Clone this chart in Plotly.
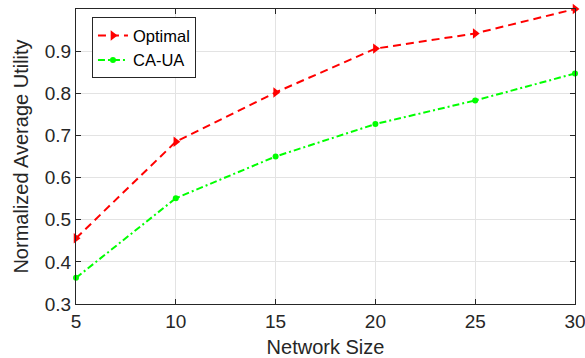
import plotly.graph_objects as go

network_size = [5, 10, 15, 20, 25, 30]
optimal = [0.456, 0.685, 0.802, 0.906, 0.942, 1.0]
ca_ua = [0.362, 0.551, 0.650, 0.727, 0.783, 0.847]
x_ticks = [5, 10, 15, 20, 25, 30]
y_ticks = [0.3, 0.4, 0.5, 0.6, 0.7, 0.8, 0.9]

fig = go.Figure()
fig.add_trace(go.Scatter(x=network_size, y=optimal, name="Optimal", mode="lines+markers",
                         line=dict(color="#ff0000", width=2, dash="8px,5px"),
                         marker=dict(symbol="triangle-right", size=9, color="#ff0000"),
                         cliponaxis=False))
fig.add_trace(go.Scatter(x=network_size, y=ca_ua, name="CA-UA", mode="lines+markers",
                         line=dict(color="#00ff00", width=2, dash="7px,3px,2px,3px"),
                         marker=dict(symbol="circle", size=6, color="#00ff00"),
                         cliponaxis=False))

axis_common = dict(showline=True, linecolor="#262626", linewidth=1, mirror="ticks",
                   ticks="inside", ticklen=5, tickcolor="#262626", automargin=False,
                   showgrid=True, gridcolor="#e3e3e3", gridwidth=1, zeroline=False,
                   ticklabeloverflow="allow",
                   tickfont=dict(size=19, color="#262626"))

fig.update_xaxes(range=[5, 30], tickvals=x_ticks,
                 title=dict(text="Network Size", font=dict(size=20, color="#262626"), standoff=14),
                 **axis_common)
fig.update_yaxes(range=[0.3, 1.0], tickvals=y_ticks, ticktext=[f"{v:.1f}" for v in y_ticks],
                 title=dict(text="Normalized Average Utility", font=dict(size=20, color="#262626"), standoff=10),
                 **axis_common)

fig.update_layout(width=585, height=358, margin=dict(l=76, r=10, t=9, b=54),
                  plot_bgcolor="white", paper_bgcolor="white",
                  font=dict(family="Liberation Sans, Arial, sans-serif"),
                  legend=dict(x=0.032, y=0.972, xanchor="left", yanchor="top",
                              bgcolor="white", bordercolor="#262626", borderwidth=1,
                              font=dict(size=16.5, color="#000000"), tracegroupgap=0,
                              itemwidth=30))

fig.write_html("out.html", config={"displayModeBar": False},
               post_script="document.body.style.margin='0';document.body.style.overflow='hidden';")
